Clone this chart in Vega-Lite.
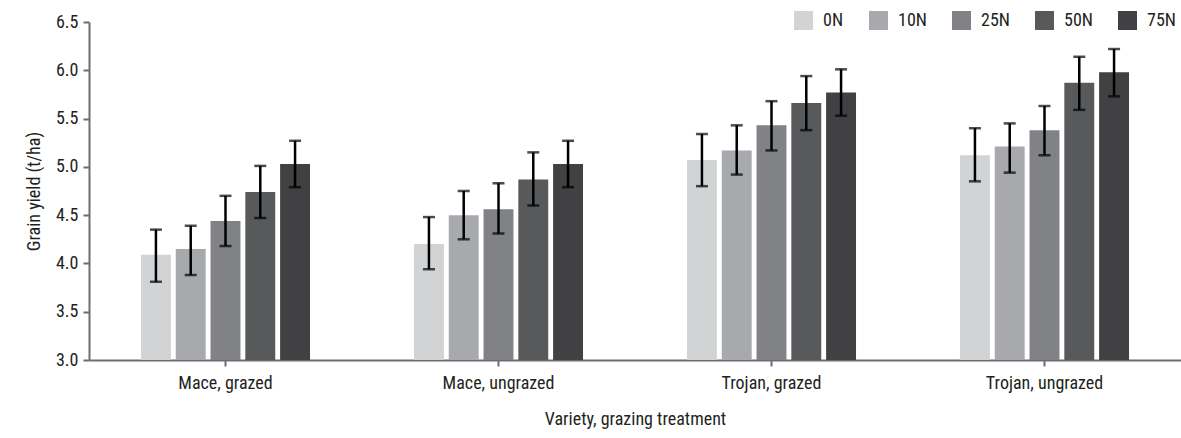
{
  "$schema": "https://vega.github.io/schema/vega-lite/v6.json",
  "autosize": "none",
  "width": 1092,
  "height": 338,
  "padding": {"left": 89, "top": 22, "right": 0, "bottom": 78},
  "background": "white",
  "config": {
    "view": {"stroke": null},
    "font": "Roboto Condensed, Roboto, sans-serif",
    "axis": {
      "labelFont": "Roboto Condensed, Roboto, sans-serif",
      "titleFont": "Roboto Condensed, Roboto, sans-serif",
      "labelFontSize": 18,
      "titleFontSize": 18,
      "labelColor": "#231f20",
      "titleColor": "#231f20",
      "titleFontWeight": "normal",
      "domainColor": "#6d6e71",
      "domainWidth": 2,
      "tickColor": "#6d6e71",
      "tickWidth": 2,
      "grid": false
    },
    "legend": {
      "labelFont": "Roboto Condensed, Roboto, sans-serif",
      "labelFontSize": 18,
      "labelColor": "#231f20"
    }
  },
  "data": {
    "values": [
      {"group": "Mace, grazed", "n": "0N", "mean": 4.09, "lo": 3.81, "hi": 4.35},
      {"group": "Mace, grazed", "n": "10N", "mean": 4.15, "lo": 3.88, "hi": 4.39},
      {"group": "Mace, grazed", "n": "25N", "mean": 4.44, "lo": 4.18, "hi": 4.70},
      {"group": "Mace, grazed", "n": "50N", "mean": 4.74, "lo": 4.47, "hi": 5.01},
      {"group": "Mace, grazed", "n": "75N", "mean": 5.03, "lo": 4.79, "hi": 5.27},
      {"group": "Mace, ungrazed", "n": "0N", "mean": 4.20, "lo": 3.94, "hi": 4.48},
      {"group": "Mace, ungrazed", "n": "10N", "mean": 4.50, "lo": 4.25, "hi": 4.75},
      {"group": "Mace, ungrazed", "n": "25N", "mean": 4.56, "lo": 4.31, "hi": 4.83},
      {"group": "Mace, ungrazed", "n": "50N", "mean": 4.87, "lo": 4.60, "hi": 5.15},
      {"group": "Mace, ungrazed", "n": "75N", "mean": 5.03, "lo": 4.79, "hi": 5.27},
      {"group": "Trojan, grazed", "n": "0N", "mean": 5.07, "lo": 4.80, "hi": 5.34},
      {"group": "Trojan, grazed", "n": "10N", "mean": 5.17, "lo": 4.92, "hi": 5.43},
      {"group": "Trojan, grazed", "n": "25N", "mean": 5.43, "lo": 5.17, "hi": 5.68},
      {"group": "Trojan, grazed", "n": "50N", "mean": 5.66, "lo": 5.38, "hi": 5.94},
      {"group": "Trojan, grazed", "n": "75N", "mean": 5.77, "lo": 5.53, "hi": 6.01},
      {"group": "Trojan, ungrazed", "n": "0N", "mean": 5.12, "lo": 4.85, "hi": 5.40},
      {"group": "Trojan, ungrazed", "n": "10N", "mean": 5.21, "lo": 4.94, "hi": 5.45},
      {"group": "Trojan, ungrazed", "n": "25N", "mean": 5.38, "lo": 5.12, "hi": 5.63},
      {"group": "Trojan, ungrazed", "n": "50N", "mean": 5.87, "lo": 5.59, "hi": 6.14},
      {"group": "Trojan, ungrazed", "n": "75N", "mean": 5.98, "lo": 5.73, "hi": 6.22}
    ]
  },
  "encoding": {
    "x": {
      "field": "group",
      "type": "nominal",
      "sort": null,
      "scale": {"paddingInner": 0.363, "paddingOuter": 0.1815},
      "axis": {"title": "Variety, grazing treatment", "labelAngle": 0, "tickSize": 6, "labelPadding": 8, "titlePadding": 18}
    },
    "xOffset": {
      "field": "n",
      "type": "nominal",
      "sort": ["0N", "10N", "25N", "50N", "75N"],
      "scale": {"paddingInner": 0.14, "paddingOuter": 0.07}
    }
  },
  "layer": [
    {
      "mark": {"type": "bar", "clip": true},
      "encoding": {
        "y": {
          "field": "mean",
          "type": "quantitative",
          "scale": {"domain": [3, 6.5], "zero": false, "nice": false},
          "axis": {"title": "Grain yield (t/ha)", "values": [3, 3.5, 4, 4.5, 5, 5.5, 6, 6.5], "format": ".1f", "tickSize": 6, "labelPadding": 5, "titlePadding": 12}
        },
        "color": {
          "field": "n",
          "type": "nominal",
          "scale": {"domain": ["0N", "10N", "25N", "50N", "75N"], "range": ["#d1d3d4", "#a7a9ac", "#808285", "#58595b", "#414042"]},
          "legend": {
            "title": null,
            "orient": "none",
            "direction": "horizontal",
            "columns": 5,
            "legendX": 705,
            "legendY": -11,
            "symbolType": "square",
            "symbolSize": 361,
            "symbolStrokeWidth": 0,
            "symbolOpacity": 1,
            "labelOffset": 10,
            "columnPadding": 25,
            "encode": {
              "symbols": {
                "update": {
                  "fill": {"signal": "datum.value === '75N' ? '#000000' : scale('color', datum.value)"}
                }
              }
            }
          }
        }
      }
    },
    {
      "mark": {"type": "rule", "color": "#000000", "strokeWidth": 2.5},
      "encoding": {
        "y": {"field": "lo", "type": "quantitative"},
        "y2": {"field": "hi"}
      }
    },
    {
      "mark": {"type": "tick", "color": "#000000", "thickness": 2.5, "size": 12},
      "encoding": {
        "y": {"field": "lo", "type": "quantitative"}
      }
    },
    {
      "mark": {"type": "tick", "color": "#000000", "thickness": 2.5, "size": 12},
      "encoding": {
        "y": {"field": "hi", "type": "quantitative"}
      }
    }
  ]
}
